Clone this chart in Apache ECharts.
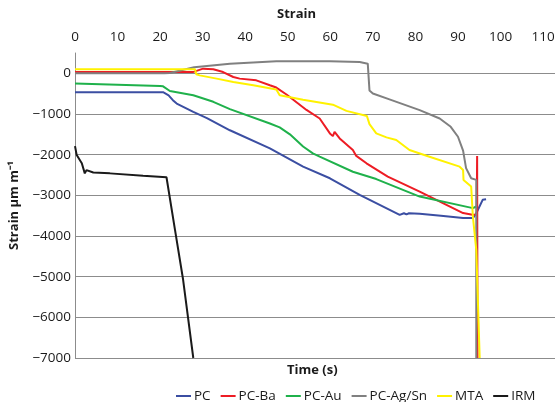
<!DOCTYPE html>
<html>
<head>
<meta charset="utf-8">
<script src="https://cdn.jsdelivr.net/npm/echarts@6/dist/echarts.min.js"></script>
<style>
  html, body { margin: 0; padding: 0; background: #fff; }
  #main { width: 559px; height: 402px; }
</style>
</head>
<body>
<div id="main"></div>
<script>
// [time (s), strain]
var pc = [[0, -465], [20.7, -465], [22, -540], [23, -660], [23.9, -743], [27.8, -947], [31, -1100], [36.4, -1400], [45.8, -1845], [53.6, -2295], [59.9, -2580], [66.9, -2990], [76.3, -3480], [77.3, -3440], [77.9, -3470], [78.5, -3440], [81, -3455], [86, -3500], [91.2, -3560], [93.5, -3560], [94.3, -3440], [95.8, -3110], [96.6, -3095]];
var pcBa = [[0, 30], [27.7, 30], [30.1, 115], [32.5, 100], [34.8, 32], [37.2, -90], [38.7, -130], [42.6, -172], [45.8, -294], [47.3, -350], [49.7, -520], [54.4, -900], [57.5, -1110], [59.9, -1477], [60.6, -1544], [61, -1437], [62.2, -1600], [65.3, -1887], [66.1, -2030], [68.5, -2212], [73.5, -2540], [81, -2908], [91.2, -3437], [93.4, -3479], [94.4, -3470], [94.5, -2030], [94.6, -7000]];
var pcAu = [[0, -253], [20, -310], [20.7, -320], [22.3, -434], [27.8, -540], [32.5, -700], [36.4, -880], [45.8, -1233], [48.1, -1330], [50.5, -1500], [53.6, -1800], [55.9, -1967], [57.5, -2050], [65.3, -2420], [70.8, -2600], [81, -3030], [93.5, -3315], [94.3, -3275]];
var pcAgSn = [[0, 0], [21, 0], [22.3, 10], [28, 150], [36.4, 238], [47.3, 295], [59.9, 300], [66.9, 277], [68.8, 238], [69.2, -420], [70, -497], [73.9, -640], [81, -906], [85.7, -1110], [88.3, -1315], [90, -1560], [91.2, -1900], [91.9, -2330], [93.1, -2580], [94.3, -2620], [94.3, -7000]];
var mta = [[0, 100], [28.2, 100], [28.5, -24], [29.3, -50], [33.3, -130], [37.2, -213], [41.9, -294], [47.3, -400], [48.1, -540], [53.6, -650], [60.6, -770], [63.8, -923], [68.6, -1050], [69.2, -1250], [70.8, -1477], [73.2, -1575], [75.5, -1640], [78.6, -1887], [83.3, -2050], [90.4, -2295], [91.2, -2377], [91.3, -2620], [93.1, -2785], [93.5, -3520], [94.3, -4340], [95.1, -7000]];
var irm = [[0, -1790], [0.4, -2010], [1.6, -2210], [2.3, -2460], [2.7, -2380], [4.3, -2440], [8.2, -2460], [16, -2520], [21.5, -2555], [23.5, -3850], [25.4, -5070], [27.8, -7000]];

var names = ['PC', 'PC-Ba', 'PC-Au', 'PC-Ag/Sn', 'MTA', 'IRM'];
var colors = ['#3b4ea2', '#ed1c24', '#1fb14b', '#808080', '#fff200', '#1a1a1a'];
var allData = [pc, pcBa, pcAu, pcAgSn, mta, irm];

var font = 'Open Sans';

var chart = echarts.init(document.getElementById('main'));
chart.setOption({
    animation: false,
    color: colors,
    textStyle: {fontFamily: font},
    grid: {left: 74, right: 4, top: 53, bottom: 44},
    graphic: [
        {type: 'text', left: 277, top: 8, style: {text: 'Strain', font: 'bold 13px ' + font, fill: '#1a1a1a'}},
        {type: 'text', left: 287, top: 364, style: {text: 'Time (s)', font: 'bold 13px ' + font, fill: '#1a1a1a'}}
    ],
    legend: {
        data: names,
        left: 171,
        top: 384,
        itemWidth: 15,
        itemHeight: 2,
        itemGap: 10,
        icon: 'rect',
        textStyle: {fontSize: 13.5, color: '#1a1a1a', fontFamily: font, padding: [0, 0, 0, -2]}
    },
    xAxis: {
        type: 'value',
        position: 'top',
        min: 0,
        max: 112.8,
        interval: 10,
        axisLine: {show: false},
        axisTick: {show: false},
        splitLine: {show: false},
        axisLabel: {
            fontSize: 13.5,
            color: '#1a1a1a',
            margin: 9,
            formatter: function (v) { return v % 10 === 0 ? String(v) : ''; }
        }
    },
    yAxis: {
        type: 'value',
        min: -7000,
        max: 500,
        interval: 1000,
        name: 'Strain μm m\u207B\u00B9',
        nameLocation: 'middle',
        nameGap: 54,
        nameTextStyle: {fontSize: 13, fontWeight: 'bold', color: '#1a1a1a', fontFamily: font},
        axisLine: {show: true, lineStyle: {color: '#8c8c8c', width: 1}},
        axisTick: {show: false},
        splitLine: {show: true, showMaxLine: false, lineStyle: {color: '#8c8c8c', width: 1}},
        axisLabel: {
            fontSize: 13.5,
            color: '#1a1a1a',
            margin: 4,
            formatter: function (v) {
                if (v > 0) return '';
                return v < 0 ? '\u2212' + Math.abs(v) : '0';
            }
        }
    },
    series: allData.map(function (d, i) {
        return {
            name: names[i],
            type: 'line',
            data: d,
            showSymbol: false,
            symbol: 'none',
            lineStyle: {width: 2, color: colors[i]}
        };
    })
});
</script>
</body>
</html>
